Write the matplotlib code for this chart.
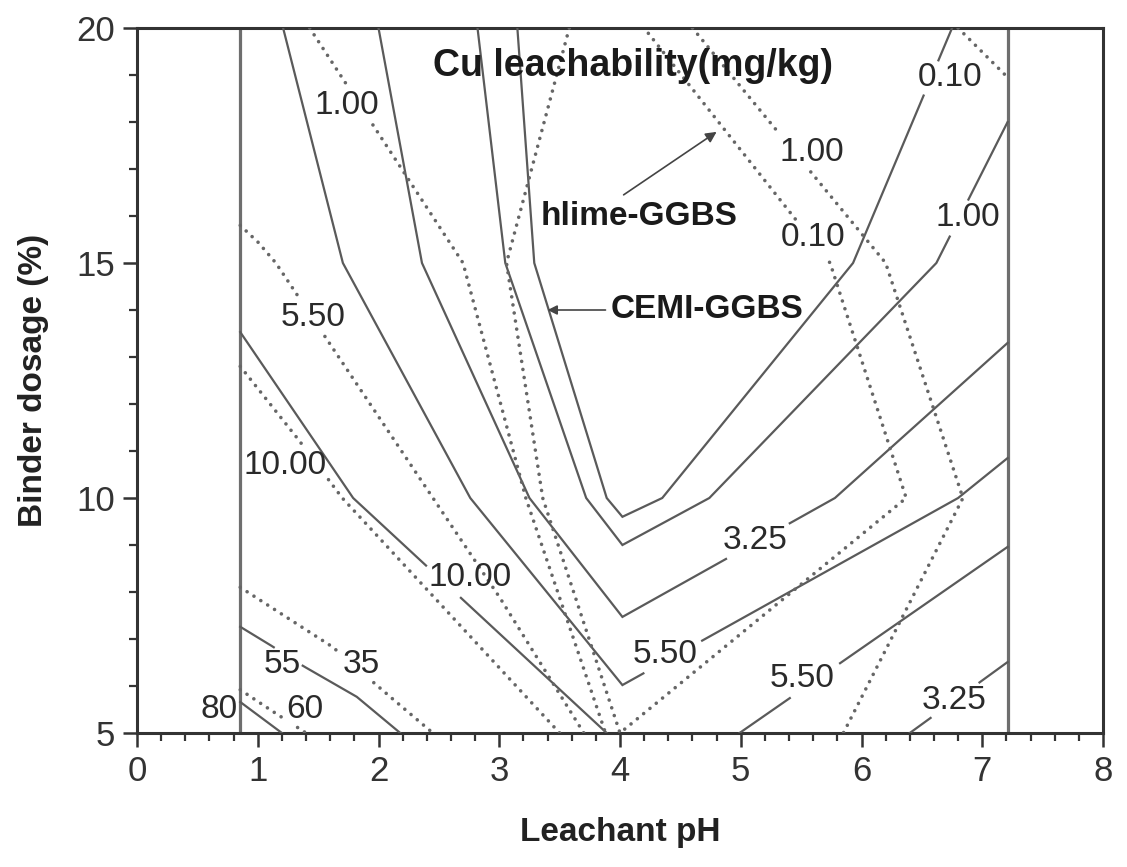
import numpy as np
import matplotlib
matplotlib.use("Agg")
import matplotlib.pyplot as plt
from matplotlib.ticker import MultipleLocator

plt.rcParams['font.family'] = ['Liberation Sans', 'DejaVu Sans']

# ---------------- data ----------------
x_ticks = [0, 1, 2, 3, 4, 5, 6, 7, 8]
y_ticks = [5, 10, 15, 20]
boundary_ph = [0.855, 7.21]          # edges of the tested pH range

# CEMI-GGBS contours (solid): leachant pH / binder dosage (%)
cemi_010_ph = [3.15, 3.29, 3.89, 4.02, 4.35, 5.93, 6.75]
cemi_010_dos = [20.0, 15.0, 10.0, 9.6, 10.0, 15.0, 20.0]
cemi_100_ph = [2.82, 3.05, 3.72, 4.02, 4.74, 6.62, 7.21]
cemi_100_dos = [20.0, 15.0, 10.0, 9.0, 10.0, 15.0, 18.0]
cemi_325_ph = [2.0, 2.36, 3.25, 4.02, 5.78, 7.21]
cemi_325_dos = [20.0, 15.0, 10.0, 7.47, 10.0, 13.3]
cemi_550_ph = [1.21, 1.705, 2.76, 4.02, 6.8, 7.21]
cemi_550_dos = [20.0, 15.0, 10.0, 6.02, 10.0, 10.85]
cemi_1000_ph = [0.855, 1.79, 3.89]
cemi_1000_dos = [13.53, 10.0, 5.0]
cemi_55_ph = [0.855, 1.08, 1.38, 1.82, 2.18]
cemi_55_dos = [7.26, 6.91, 6.42, 5.77, 5.0]
cemi_80_ph = [0.855, 1.2]
cemi_80_dos = [5.66, 5.0]
cemi_550b_ph = [4.99, 7.21]
cemi_550b_dos = [5.0, 8.96]
cemi_325b_ph = [6.4, 7.21]
cemi_325b_dos = [5.0, 6.51]

# hlime-GGBS contours (dotted)
hl_010_ph = [3.58, 3.06, 3.36, 4.0, 6.37, 5.74, 4.2]
hl_010_dos = [20.0, 15.0, 10.0, 5.0, 10.0, 15.0, 20.0]
hl_010b_ph = [6.8, 7.21]
hl_010b_dos = [20.0, 18.95]
hl_100a_ph = [1.43, 2.7, 3.22, 3.88]
hl_100a_dos = [20.0, 15.0, 10.0, 5.0]
hl_100b_ph = [4.6, 6.2, 6.84, 5.85]
hl_100b_dos = [20.0, 15.0, 10.0, 5.0]
hl_550_ph = [0.855, 1.0, 1.15, 2.45, 3.0, 3.7]
hl_550_dos = [15.8, 15.45, 15.0, 10.0, 7.9, 5.0]
hl_1000_ph = [0.855, 1.32, 1.7, 3.5]
hl_1000_dos = [12.8, 11.3, 10.0, 5.0]
hl_35_ph = [0.855, 1.62, 2.06, 2.45]
hl_35_dos = [8.1, 6.83, 5.85, 5.0]
hl_60_ph = [0.855, 1.07, 1.4]
hl_60_dos = [5.92, 5.55, 5.0]

# ---------------- figure ----------------
fig = plt.figure(figsize=(11.27, 8.67), dpi=100)
ax = fig.add_axes([137 / 1127, 1 - 733 / 867, (1103 - 137) / 1127, (733 - 28) / 867])
ax.set_xlim(0, 8)
ax.set_ylim(5, 20)

spine_c = '#333333'
for s in ax.spines.values():
    s.set_linewidth(2.2)
    s.set_color(spine_c)

ax.set_xticks(x_ticks)
ax.set_yticks(y_ticks)
ax.xaxis.set_minor_locator(MultipleLocator(0.2))
ax.yaxis.set_minor_locator(MultipleLocator(1))
ax.tick_params(which='major', direction='out', length=10, width=1.8, color=spine_c,
               labelsize=25, labelcolor='#333333', pad=6)
ax.tick_params(which='minor', direction='out', length=5.5, width=1.6, color=spine_c)

ax.set_xlabel('Leachant pH', fontsize=24, fontweight='bold', color='#222222', va='center')
ax.xaxis.set_label_coords(0.5, (733 - 832) / 705)
ax.set_ylabel('Binder dosage (%)', fontsize=24, fontweight='bold', color='#222222', va='center')
ax.yaxis.set_label_coords((34 - 137) / 966, 0.5)

for b in boundary_ph:
    ax.axvline(b, color='#6e6e6e', lw=2.3, zorder=2)

fig.canvas.draw()
renderer = fig.canvas.get_renderer()

solid = dict(color='#5a5a5a', lw=1.6, solid_joinstyle='miter', zorder=3)
dotted = dict(color='#666666', lw=2.6, linestyle=(0, (0.01, 2.25)),
              dash_capstyle='round', zorder=3)


def draw_contour(ph, dos, style, labels=()):
    ph = np.asarray(ph, float)
    dos = np.asarray(dos, float)
    xs, ys = [], []
    for i in range(len(ph) - 1):
        t = np.linspace(0, 1, 80, endpoint=False)
        xs.append(ph[i] + (ph[i + 1] - ph[i]) * t)
        ys.append(dos[i] + (dos[i + 1] - dos[i]) * t)
    xs.append([ph[-1]])
    ys.append([dos[-1]])
    x = np.concatenate(xs)
    y = np.concatenate(ys)
    disp = ax.transData.transform(np.column_stack([x, y]))
    keep = np.ones(len(x), bool)
    for txt, lx, ly in labels:
        t = ax.text(lx, ly, txt, ha='center', va='center', fontsize=24,
                    color='#2a2a2a', zorder=4)
        bb = t.get_window_extent(renderer).padded(2)
        inside = ((disp[:, 0] > bb.x0) & (disp[:, 0] < bb.x1) &
                  (disp[:, 1] > bb.y0) & (disp[:, 1] < bb.y1))
        keep &= ~inside
    x = np.where(keep, x, np.nan)
    ax.plot(x, y, **style)


# solid (CEMI-GGBS)
draw_contour(cemi_010_ph, cemi_010_dos, solid, [('0.10', 6.73, 18.94)])
draw_contour(cemi_100_ph, cemi_100_dos, solid, [('1.00', 6.88, 15.96)])
draw_contour(cemi_325_ph, cemi_325_dos, solid, [('3.25', 5.12, 9.09)])
draw_contour(cemi_550_ph, cemi_550_dos, solid, [('5.50', 4.37, 6.66)])
draw_contour(cemi_1000_ph, cemi_1000_dos, solid, [('10.00', 2.76, 8.3)])
draw_contour(cemi_55_ph, cemi_55_dos, solid, [('55', 1.2, 6.45)])
draw_contour(cemi_80_ph, cemi_80_dos, solid, [('80', 0.68, 5.49)])
draw_contour(cemi_550b_ph, cemi_550b_dos, solid, [('5.50', 5.51, 6.15)])
draw_contour(cemi_325b_ph, cemi_325b_dos, solid, [('3.25', 6.77, 5.70)])

# dotted (hlime-GGBS)
draw_contour(hl_010_ph, hl_010_dos, dotted, [('0.10', 5.6, 15.55)])
draw_contour(hl_010b_ph, hl_010b_dos, dotted)
draw_contour(hl_100a_ph, hl_100a_dos, dotted, [('1.00', 1.74, 18.36)])
draw_contour(hl_100b_ph, hl_100b_dos, dotted, [('1.00', 5.59, 17.36)])
draw_contour(hl_550_ph, hl_550_dos, dotted, [('5.50', 1.46, 13.85)])
draw_contour(hl_1000_ph, hl_1000_dos, dotted, [('10.00', 1.225, 10.7)])
draw_contour(hl_35_ph, hl_35_dos, dotted, [('35', 1.86, 6.45)])
draw_contour(hl_60_ph, hl_60_dos, dotted, [('60', 1.39, 5.49)])

# annotations
ax.text(4.11, 19.2, 'Cu leachability(mg/kg)', ha='center', va='center',
        fontsize=27, fontweight='bold', color='#1a1a1a', zorder=5)
ax.text(4.16, 15.98, 'hlime-GGBS', ha='center', va='center',
        fontsize=24, fontweight='bold', color='#1a1a1a', zorder=5)
ax.text(4.72, 14.0, 'CEMI-GGBS', ha='center', va='center',
        fontsize=24, fontweight='bold', color='#1a1a1a', zorder=5)
ax.annotate('', xy=(4.8, 17.79), xytext=(4.03, 16.45),
            arrowprops=dict(arrowstyle='-|>', color='#444444', lw=1.2,
                            mutation_scale=16, shrinkA=0, shrinkB=0), zorder=5)
ax.annotate('', xy=(3.40, 14.0), xytext=(3.88, 14.0),
            arrowprops=dict(arrowstyle='-|>', color='#444444', lw=1.2,
                            mutation_scale=14, shrinkA=0, shrinkB=0), zorder=5)

fig.savefig('out.png', dpi=100)
